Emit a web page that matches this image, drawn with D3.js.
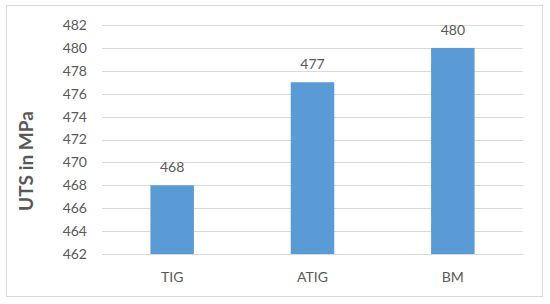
<!DOCTYPE html>
<html>
<head>
<meta charset="utf-8">
<script src="https://cdn.jsdelivr.net/npm/d3@7"></script>
<style>
  body { margin: 0; background: #fff; }
  text { font-family: Lato, "Open Sans", sans-serif; fill: #595959; }
</style>
</head>
<body>
<div id="chart"></div>
<script>
var categories = ["TIG", "ATIG", "BM"];
var values = [468, 477, 480];
var yTicks = [462, 464, 466, 468, 470, 472, 474, 476, 478, 480, 482];

var svgWidth = 550;
var svgHeight = 304;

var margin = { top: 25, right: 27, bottom: 50, left: 102 };
var width = 523 - margin.left;
var height = 254 - margin.top;

var svg = d3.select("#chart")
    .append("svg")
    .attr("width", svgWidth)
    .attr("height", svgHeight);

// outer border
svg.append("rect")
    .attr("x", 6.5)
    .attr("y", 5.5)
    .attr("width", 536)
    .attr("height", 291)
    .attr("fill", "#fff")
    .attr("stroke", "#d9d9d9")
    .attr("stroke-width", 1);

var chartGroup = svg.append("g")
    .attr("transform", `translate(${margin.left}, ${margin.top})`);

var xScale = d3.scaleBand()
    .domain(categories)
    .range([0, width])
    .paddingInner(0.69)
    .paddingOuter(0.345);

var yScale = d3.scaleLinear()
    .domain([462, 482])
    .range([height, 0]);

// gridlines
chartGroup.append("g")
    .selectAll("line")
    .data(yTicks)
    .enter()
    .append("line")
    .attr("x1", 0)
    .attr("x2", width)
    .attr("y1", d => Math.round(yScale(d)) + 0.5)
    .attr("y2", d => Math.round(yScale(d)) + 0.5)
    .attr("stroke", "#d9d9d9")
    .attr("stroke-width", 1);

var leftAxis = d3.axisLeft(yScale)
    .tickValues(yTicks)
    .tickSize(0)
    .tickPadding(15);

var yAxisG = chartGroup.append("g").call(leftAxis);
yAxisG.select(".domain").remove();
yAxisG.selectAll("text")
    .attr("font-size", "14px")
    .attr("fill", "#595959")
    .style("font-family", "Lato, 'Open Sans', sans-serif");

var bottomAxis = d3.axisBottom(xScale)
    .tickSize(0)
    .tickPadding(18);

var xAxisG = chartGroup.append("g")
    .attr("transform", `translate(0, ${height})`)
    .call(bottomAxis);
xAxisG.select(".domain").remove();
xAxisG.selectAll("text")
    .attr("font-size", "14px")
    .attr("fill", "#595959")
    .style("font-family", "Lato, 'Open Sans', sans-serif");

var data = categories.map((c, i) => ({ cat: c, val: values[i] }));

chartGroup.selectAll("rect.bar")
    .data(data)
    .enter()
    .append("rect")
    .attr("class", "bar")
    .attr("x", d => xScale(d.cat))
    .attr("width", xScale.bandwidth())
    .attr("y", d => yScale(d.val))
    .attr("height", d => height - yScale(d.val))
    .attr("fill", "#5b9bd5");

chartGroup.selectAll("text.label")
    .data(data)
    .enter()
    .append("text")
    .attr("class", "label")
    .attr("x", d => xScale(d.cat) + xScale.bandwidth() / 2)
    .attr("y", d => yScale(d.val) - 13)
    .attr("text-anchor", "middle")
    .attr("font-size", "14px")
    .attr("fill", "#404040")
    .text(d => d.val);

// y axis title
svg.append("text")
    .attr("transform", "translate(33, 161) rotate(-90)")
    .attr("text-anchor", "middle")
    .attr("font-size", "19px")
    .attr("font-weight", "bold")
    .attr("fill", "#595959")
    .text("UTS in MPa");
</script>
</body>
</html>
